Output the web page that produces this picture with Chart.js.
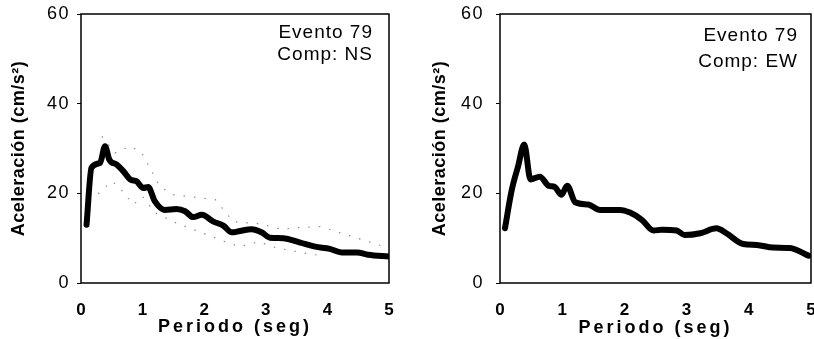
<!DOCTYPE html>
<html>
<head>
<meta charset="utf-8">
<script src="https://cdn.jsdelivr.net/npm/chart.js@4.4.1/dist/chart.umd.min.js"></script>
<style>
  html, body { margin: 0; padding: 0; background: #fff; overflow: hidden; }
  .panel { position: absolute; top: 0; }
</style>
</head>
<body>
<canvas id="chartNS" class="panel" width="407" height="339" style="left:0"></canvas>
<canvas id="chartEW" class="panel" width="407" height="339" style="left:407px"></canvas>
<script>
// Componente NS (curva gruesa)
const periodNS = [0.09, 0.17, 0.31, 0.39, 0.46, 0.58, 0.69, 0.80, 0.90, 1.01, 1.09, 1.20, 1.36, 1.55, 1.69, 1.82, 1.96, 2.15, 2.31, 2.45, 2.58, 2.77, 2.93, 3.07, 3.28, 3.56, 3.80, 4.04, 4.23, 4.48, 4.66, 5.0];
const accelNS = [13.0, 25.7, 26.8, 30.5, 27.5, 26.4, 24.9, 23.1, 22.7, 21.2, 21.4, 18.2, 16.3, 16.5, 16.0, 14.7, 15.2, 13.7, 12.8, 11.3, 11.6, 12.0, 11.3, 10.1, 10.0, 9.0, 8.1, 7.6, 6.8, 6.8, 6.3, 5.9];

// NS: curvas punteadas tenues (arriba / abajo)
const periodNSUpper = [0.34, 0.55, 0.80, 0.98, 1.28, 1.50, 2.18, 2.47, 2.90, 3.28, 3.42, 3.88, 4.42, 4.99];
const accelNSUpper = [32.7, 29.0, 30.5, 29.2, 21.5, 19.7, 18.6, 13.7, 13.2, 11.9, 12.3, 12.6, 10.3, 7.8];
const periodNSLower = [0.28, 0.50, 0.63, 0.85, 1.00, 1.20, 1.49, 2.36, 2.58, 2.88, 3.18, 3.44, 3.77, 3.95];
const accelNSLower = [19.9, 22.7, 21.2, 17.5, 19.3, 15.7, 13.7, 9.1, 8.1, 9.2, 7.8, 7.2, 6.3, 6.3];

// Componente EW
const periodEW = [0.08, 0.19, 0.29, 0.39, 0.49, 0.64, 0.78, 0.88, 0.99, 1.08, 1.21, 1.42, 1.61, 1.93, 2.09, 2.28, 2.47, 2.60, 2.84, 2.97, 3.22, 3.48, 3.64, 3.91, 4.13, 4.39, 4.66, 4.96];
const accelEW = [12.2, 20.8, 26.0, 30.9, 23.1, 23.7, 21.7, 21.4, 19.7, 21.7, 18.0, 17.5, 16.3, 16.3, 15.7, 14.1, 11.7, 11.9, 11.7, 10.7, 11.1, 12.2, 11.1, 8.7, 8.5, 7.9, 7.8, 6.1];

const xTicks = [0, 1, 2, 3, 4, 5];
const yTicks = [0, 20, 40, 60];
const notesNS = ['Evento 79', 'Comp: NS'];
const notesEW = ['Evento 79', 'Comp: EW'];

const family = "'Liberation Sans', Arial, sans-serif";

const zip = (xs, ys) => xs.map((x, i) => ({ x: x, y: ys[i] }));

// escala lineal con espaciado de letras (el original esta estirado a lo ancho)
class SpacedLinear extends Chart.LinearScale {
  static id = 'spacedLinear';
  drawLabels(area) {
    this.ctx.save();
    this.ctx.letterSpacing = this.options.labelSpacing || '0px';
    super.drawLabels(area);
    this.ctx.restore();
  }
  drawTitle() {
    this.ctx.save();
    this.ctx.letterSpacing = this.options.titleSpacing || '0px';
    super.drawTitle();
    this.ctx.restore();
  }
}
Chart.register(SpacedLinear);

// marco del area y texto del evento
const panelNote = {
  id: 'panelNote',
  afterDraw(chart, args, opts) {
    const { ctx, chartArea: a } = chart;
    ctx.save();
    ctx.strokeStyle = '#000';
    ctx.lineWidth = 1.5;
    ctx.strokeRect(a.left, a.top, a.right - a.left, a.bottom - a.top);
    ctx.font = '19px ' + family;
    ctx.letterSpacing = '1px';
    ctx.fillStyle = '#000';
    ctx.textAlign = 'right';
    ctx.textBaseline = 'alphabetic';
    opts.lines.forEach((t, i) => ctx.fillText(t, a.right - opts.inset + 1, opts.baselines[i]));
    ctx.restore();
  }
};

const mainLine = (data) => ({
  data: data,
  borderColor: '#000',
  borderWidth: 6,
  pointRadius: 0,
  cubicInterpolationMode: 'monotone',
  borderJoinStyle: 'round',
  borderCapStyle: 'round'
});

const faintLine = (data) => ({
  data: data,
  borderColor: 'rgba(0,0,0,0.45)',
  borderWidth: 1.2,
  borderDash: [1.5, 9],
  pointRadius: 0,
  tension: 0
});

function makePanel(canvasId, p) {
  return new Chart(document.getElementById(canvasId), {
    type: 'line',
    data: { datasets: p.datasets },
    options: {
      responsive: false,
      animation: false,
      devicePixelRatio: 1,
      layout: { padding: { top: 14, right: p.padRight, bottom: 0, left: 0 } },
      plugins: {
        legend: { display: false },
        tooltip: { enabled: false },
        panelNote: { lines: p.lines, inset: p.noteInset, baselines: p.noteBaselines }
      },
      scales: {
        x: {
          type: 'spacedLinear',
          min: 0, max: 5,
          labelSpacing: '0px',
          titleSpacing: '3px',
          afterBuildTicks: (s) => { s.ticks = xTicks.map(v => ({ value: v })); },
          ticks: { padding: 9, color: '#000', maxRotation: 0, font: { family: family, size: 17, weight: 'bold' } },
          grid: { display: false },
          border: { display: false },
          title: { display: true, text: 'Periodo (seg)', color: '#000', font: { family: family, size: 18, weight: 'bold' }, padding: { top: 0, bottom: p.xTitlePad } },
          afterFit: (s) => { s.height = 56; s.paddingLeft = 0; s.paddingRight = 0; }
        },
        y: {
          type: 'spacedLinear',
          min: 0, max: 60,
          labelSpacing: '1.5px',
          titleSpacing: '0.5px',
          afterBuildTicks: (s) => { s.ticks = yTicks.map(v => ({ value: v })); },
          ticks: { padding: p.yTickPad, color: '#000', font: { family: family, size: 18 } },
          grid: { drawOnChartArea: false, drawTicks: true, tickLength: 4, color: '#000', lineWidth: 1 },
          border: { display: false },
          title: { display: true, text: 'Aceleración (cm/s²)', color: '#000', font: { family: family, size: 18, weight: 'bold' }, padding: { top: p.yTitlePad, bottom: 0 } },
          afterFit: (s) => { s.width = p.yWidth; s.paddingTop = 0; s.paddingBottom = 0; }
        }
      }
    },
    plugins: [panelNote]
  });
}

makePanel('chartNS', {
  datasets: [
    faintLine(zip(periodNSUpper, accelNSUpper)),
    faintLine(zip(periodNSLower, accelNSLower)),
    mainLine(zip(periodNS, accelNS))
  ],
  padRight: 18,
  yWidth: 81,
  yTickPad: 7,
  yTitlePad: 8,
  xTitlePad: 1,
  lines: notesNS,
  noteInset: 17,
  noteBaselines: [38, 60]
});

makePanel('chartEW', {
  datasets: [mainLine(zip(periodEW, accelEW))],
  padRight: 3,
  yWidth: 93,
  yTickPad: 12,
  yTitlePad: 22,
  xTitlePad: 0,
  lines: notesEW,
  noteInset: 14,
  noteBaselines: [41, 67]
});
</script>
</body>
</html>
